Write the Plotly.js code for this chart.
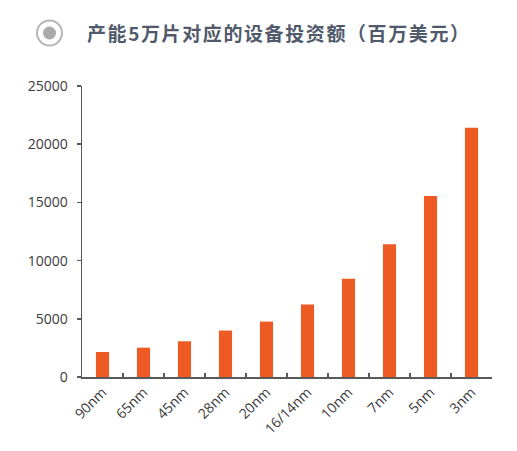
<!DOCTYPE html>
<html>
<head>
<meta charset="utf-8">
<script src="https://cdn.plot.ly/plotly-3.0.1.min.js"></script>
<style>
html,body{margin:0;padding:0;background:#fff;}
#chart{width:517px;height:451px;}
.annotation-text{letter-spacing:1.6px;}
</style>
</head>
<body>
<div id="chart"></div>
<script>
const categories = ["90nm","65nm","45nm","28nm","20nm","16/14nm","10nm","7nm","5nm","3nm"];
const investment = [2150, 2520, 3070, 3990, 4760, 6220, 8450, 11400, 15550, 21420];
const yTicks = [0, 5000, 10000, 15000, 20000, 25000];
const titleText = "产能5万片对应的设备投资额（百万美元）";

const trace = {
  type: "bar",
  x: categories,
  y: investment,
  marker: {color: "#ee5a24"},
  hoverinfo: "x+y"
};

const layout = {
  width: 517, height: 451,
  margin: {l: 82, r: 25, t: 86, b: 74},
  paper_bgcolor: "#fff", plot_bgcolor: "#fff",
  bargap: 0.68,
  showlegend: false,
  font: {family: "Open Sans, Noto Sans, sans-serif", color: "#404040"},
  xaxis: {
    type: "category",
    showline: true, linecolor: "#595959", linewidth: 1.5,
    ticks: "inside", tickson: "boundaries", ticklen: 4, tickcolor: "#595959", tickwidth: 1.5,
    tickangle: -45, tickfont: {size: 14, color: "#3a3a3a"},
    showgrid: false, zeroline: false, fixedrange: true
  },
  yaxis: {
    range: [0, 25000],
    tickvals: yTicks, ticktext: yTicks.map(String),
    showline: true, linecolor: "#595959", linewidth: 1.5,
    ticks: "outside", ticklen: 4, tickcolor: "#595959", tickwidth: 1.5,
    ticklabelstandoff: 6,
    tickfont: {size: 14, color: "#3a3a3a"},
    showgrid: false, zeroline: false, fixedrange: true
  },
  shapes: [
    {type: "circle", xref: "paper", yref: "paper", xsizemode: "pixel", ysizemode: "pixel",
     xanchor: (49.5 - 82) / 410, yanchor: (377 - 33) / 291,
     x0: -12.5, x1: 12.5, y0: -12.5, y1: 12.5,
     line: {color: "#b5b5b5", width: 2}, fillcolor: "rgba(0,0,0,0)"},
    {type: "circle", xref: "paper", yref: "paper", xsizemode: "pixel", ysizemode: "pixel",
     xanchor: (49.5 - 82) / 410, yanchor: (377 - 33) / 291,
     x0: -6.5, x1: 6.5, y0: -6.5, y1: 6.5,
     line: {width: 0}, fillcolor: "#aaaaaa"}
  ],
  annotations: [
    {text: "<b>" + titleText + "</b>", xref: "paper", yref: "paper",
     x: (85 - 82) / 410, y: (377 - 33) / 291, xanchor: "left", yanchor: "middle",
     showarrow: false,
     font: {family: "Noto Sans CJK SC, sans-serif", size: 19, color: "#505a6b"}}
  ]
};

Plotly.newPlot("chart", [trace], layout, {displayModeBar: false, staticPlot: true});
</script>
</body>
</html>
